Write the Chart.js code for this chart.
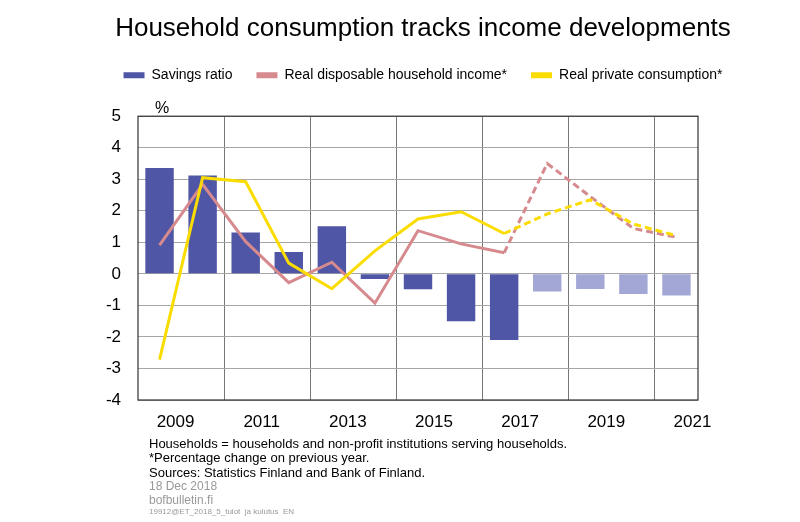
<!DOCTYPE html>
<html lang="en">
<head>
    <meta charset="UTF-8">
    <title>Household consumption tracks income developments</title>
    <script src="https://cdn.jsdelivr.net/npm/chart.js"></script>
    <style>
        body { margin: 0; background: #ffffff; }
        canvas { display: block; }
    </style>
</head>
<body>
    <canvas id="householdChart" width="800" height="522"></canvas>

    <script>
        // Data
        const years = ['2009', '2010', '2011', '2012', '2013', '2014', '2015', '2016', '2017', '2018', '2019', '2020', '2021'];
        const savingsRatio = [3.36, 3.12, 1.31, 0.69, 1.51, -0.16, -0.49, -1.5, -2.1, -0.56, -0.48, -0.64, -0.69];
        const disposableIncome = [0.91, 2.84, 1.02, -0.28, 0.37, -0.93, 1.37, 0.95, 0.67, 3.5, 2.45, 1.44, 1.16];
        const privateConsumption = [-2.72, 3.05, 2.92, 0.34, -0.47, 0.73, 1.74, 1.97, 1.28, 1.9, 2.35, 1.58, 1.21];
        const forecastBarsFrom = 9;   // 2018 onwards drawn lighter
        const dashedFrom = 8;         // line segments after 2017 are dashed

        const footnotes = [
            'Households = households and non-profit institutions serving households.',
            '*Percentage change on previous year.',
            'Sources: Statistics Finland and Bank of Finland.'
        ];
        const credits = ['18 Dec 2018', 'bofbulletin.fi'];
        const fileTag = '19912@ET_2018_5_tulot  ja kulutus  EN';

        const DARK_BLUE = '#4e56a5';
        const LIGHT_BLUE = '#a3a7d5';
        const PINK = '#d68a8e';
        const YELLOW = '#fbdc00';
        const FONT = "'Liberation Sans', Arial, sans-serif";

        Chart.defaults.font.family = FONT;
        Chart.defaults.color = '#000';

        // frame, % sign and footnotes
        const extras = {
            id: 'extras',
            beforeDatasetsDraw(chart) {
                const { ctx, chartArea: a } = chart;
                ctx.save();
                ctx.strokeStyle = '#333';
                ctx.lineWidth = 1.2;
                ctx.strokeRect(a.left, a.top, a.right - a.left, a.bottom - a.top);
                ctx.restore();
            },
            afterDraw(chart) {
                const { ctx, chartArea: a } = chart;
                ctx.save();
                ctx.textAlign = 'left';
                ctx.textBaseline = 'middle';
                ctx.fillStyle = '#000';
                ctx.font = '16px ' + FONT;
                ctx.fillText('%', a.left + 17, a.top - 8);

                const x = a.left + 11;
                ctx.font = '13px ' + FONT;
                footnotes.forEach((t, i) => ctx.fillText(t, x, a.bottom + 44 + i * 14.5));
                ctx.fillStyle = '#999';
                ctx.font = '12px ' + FONT;
                credits.forEach((t, i) => ctx.fillText(t, x, a.bottom + 87 + i * 13.5));
                ctx.font = '8px ' + FONT;
                ctx.fillText(fileTag, x, a.bottom + 112);
                ctx.restore();
            }
        };

        const ctx = document.getElementById('householdChart').getContext('2d');
        new Chart(ctx, {
            type: 'bar',
            data: {
                labels: years,
                datasets: [
                    {
                        label: 'Savings ratio',
                        data: savingsRatio,
                        backgroundColor: savingsRatio.map((v, i) => i >= forecastBarsFrom ? LIGHT_BLUE : DARK_BLUE),
                        legendColor: DARK_BLUE,
                        barPercentage: 0.66,
                        categoryPercentage: 1,
                        order: 3
                    },
                    {
                        type: 'line',
                        label: 'Real disposable household income*',
                        data: disposableIncome,
                        borderColor: PINK,
                        backgroundColor: PINK,
                        legendColor: PINK,
                        borderWidth: 3,
                        pointRadius: 0,
                        tension: 0,
                        segment: { borderDash: c => c.p0DataIndex >= dashedFrom ? [7, 4] : undefined },
                        order: 2
                    },
                    {
                        type: 'line',
                        label: 'Real private consumption*',
                        data: privateConsumption,
                        borderColor: YELLOW,
                        backgroundColor: YELLOW,
                        legendColor: YELLOW,
                        borderWidth: 3,
                        pointRadius: 0,
                        tension: 0,
                        segment: { borderDash: c => c.p0DataIndex >= dashedFrom ? [7, 4] : undefined },
                        order: 1
                    }
                ]
            },
            options: {
                responsive: false,
                animation: false,
                layout: { padding: { left: 46, right: 0, top: 0, bottom: 90 } },
                plugins: {
                    title: {
                        display: true,
                        text: 'Household consumption tracks income developments',
                        font: { size: 26, weight: 'normal' },
                        color: '#000',
                        padding: { top: 13, bottom: 0 }
                    },
                    legend: {
                        display: true,
                        labels: {
                            boxWidth: 21,
                            boxHeight: 6,
                            padding: 24,
                            font: { size: 14 },
                            color: '#000',
                            generateLabels: chart => chart.data.datasets.map((ds, i) => ({
                                text: ds.label,
                                fillStyle: ds.legendColor,
                                strokeStyle: ds.legendColor,
                                lineWidth: 0,
                                hidden: false,
                                datasetIndex: i
                            }))
                        }
                    },
                    tooltip: { enabled: false }
                },
                scales: {
                    x: {
                        offset: true,
                        grid: {
                            offset: true,
                            drawTicks: false,
                            color: c => (c.index % 2 === 0 && c.index > 0 && c.index < years.length) ? '#777' : 'rgba(0,0,0,0)'
                        },
                        border: { display: false },
                        ticks: {
                            autoSkip: false,
                            maxRotation: 0,
                            labelOffset: 16,
                            padding: 12,
                            font: { size: 17 },
                            color: '#000',
                            callback: (v, i) => i % 2 === 0 ? years[i] : ''
                        },
                        afterFit(scale) { scale.height = 32; }
                    },
                    y: {
                        min: -4,
                        max: 5,
                        ticks: { stepSize: 1, padding: 17, font: { size: 17 }, color: '#000' },
                        grid: { color: '#a6a6a6', drawTicks: false },
                        border: { display: false },
                        afterFit(scale) { scale.width = 92; }
                    },
                    xTop: {
                        type: 'linear',
                        position: 'top',
                        grid: { display: false },
                        ticks: { display: false },
                        border: { display: false },
                        afterFit(scale) { scale.height = 24; }
                    },
                    yRight: {
                        type: 'linear',
                        position: 'right',
                        grid: { display: false },
                        ticks: { display: false },
                        border: { display: false },
                        afterFit(scale) { scale.width = 102; }
                    }
                }
            },
            plugins: [extras]
        });
    </script>
</body>
</html>
